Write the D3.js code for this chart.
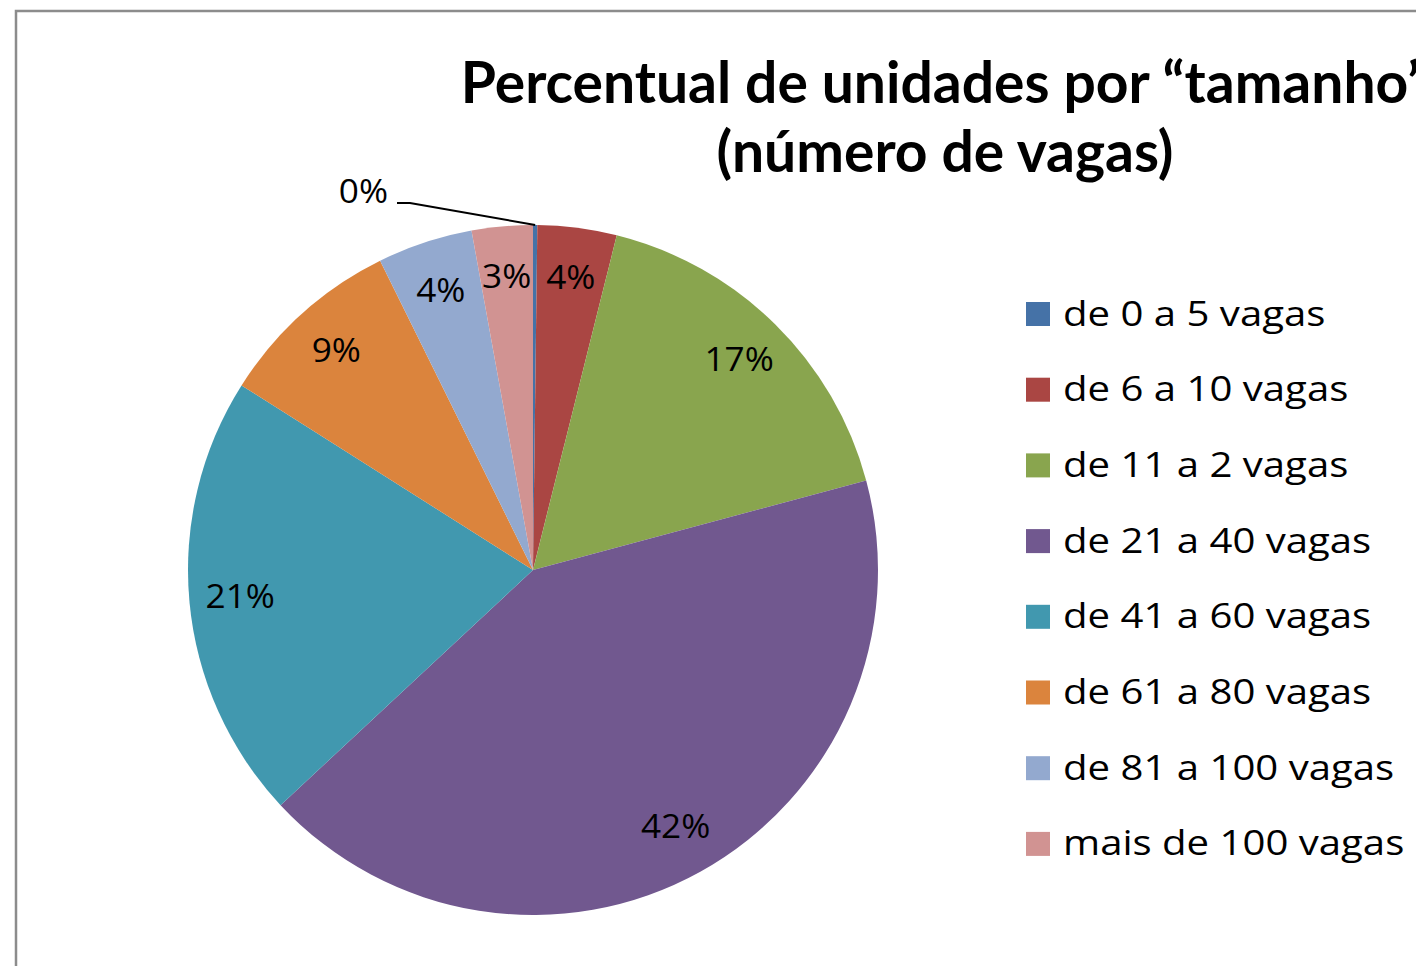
<!DOCTYPE html>
<html>
<head>
<meta charset="utf-8">
<script src="https://cdn.jsdelivr.net/npm/d3@7"></script>
<style>
  body { margin: 0; background: #fff; overflow: hidden; }
  text { font-family: "Open Sans", Lato, sans-serif; }
</style>
</head>
<body>
<div id="chart"></div>
<script>
// slice categories, clockwise from 12 o'clock
var categories = ["de 0 a 5 vagas", "de 6 a 10 vagas", "de 11 a 2 vagas", "de 21 a 40 vagas",
                  "de 41 a 60 vagas", "de 61 a 80 vagas", "de 81 a 100 vagas", "mais de 100 vagas"];
// percent of units
var percents = [0.2, 3.7, 16.9, 42.2, 20.9, 8.7, 4.45, 2.85];
var colors = ["#4572A7", "#AA4643", "#89A54E", "#71588F", "#4198AF", "#DB843D", "#93A9CF", "#D19392"];
var titleLines = ["Percentual de unidades por \u201ctamanho\u201d", "(n\u00famero de vagas)"];

var width = 1416, height = 966;
var cx = 533, cy = 570, radius = 345;

var svg = d3.select("#chart").append("svg")
    .attr("width", width)
    .attr("height", height);

// chart area border (cropped on right and bottom)
svg.append("rect")
    .attr("x", 16)
    .attr("y", 11)
    .attr("width", width + 20)
    .attr("height", height + 20)
    .attr("fill", "#fff")
    .attr("stroke", "#8c8c8c")
    .attr("stroke-width", 2.5);

// title (runs past the right edge, like the original)
var title = svg.append("text")
    .attr("text-anchor", "middle")
    .style("font-family", "Lato, sans-serif")
    .attr("font-weight", "bold")
    .attr("font-size", "57px")
    .attr("fill", "#000");
title.selectAll("tspan")
    .data(titleLines)
    .enter().append("tspan")
    .attr("x", 945)
    .attr("y", function(d, i) { return 103 + i * 69; })
    .text(function(d) { return d; });

var data = categories.map(function(c, i) { return {name: c, value: percents[i], color: colors[i]}; });

var pie = d3.pie()
    .sort(null)
    .value(function(d) { return d.value; });

var arc = d3.arc()
    .innerRadius(0)
    .outerRadius(radius);

var labelArc = d3.arc()
    .innerRadius(294)
    .outerRadius(294);

var g = svg.append("g")
    .attr("transform", "translate(" + cx + "," + cy + ")");

var arcs = pie(data);

g.selectAll("path.slice")
    .data(arcs)
    .enter().append("path")
    .attr("class", "slice")
    .attr("d", arc)
    .attr("fill", function(d) { return d.data.color; });

var fmt = function(v) { return Math.round(v) + "%"; };

// labels inside slices (the tiny first slice gets a leader line)
g.selectAll("text.lbl")
    .data(arcs.slice(1))
    .enter().append("text")
    .attr("class", "lbl")
    .attr("transform", function(d) { return "translate(" + labelArc.centroid(d) + ") scale(1.1,1)"; })
    .attr("text-anchor", "middle")
    .attr("dy", "0.34em")
    .attr("font-size", "32px")
    .attr("fill", "#000")
    .text(function(d) { return fmt(d.data.value); });

var small = arcs[0];
var mid = (small.startAngle + small.endAngle) / 2;
var edge = [Math.sin(mid) * radius, -Math.cos(mid) * radius];
g.append("polyline")
    .attr("points", [[-136, -367], [-123, -367], edge].map(function(p) { return p.join(","); }).join(" "))
    .attr("fill", "none")
    .attr("stroke", "#000")
    .attr("stroke-width", 2);
g.append("text")
    .attr("transform", "translate(-145,-378) scale(1.1,1)")
    .attr("text-anchor", "end")
    .attr("dy", "0.34em")
    .attr("font-size", "32px")
    .attr("fill", "#000")
    .text(fmt(small.data.value));

// legend
var legend = svg.append("g")
    .attr("transform", "translate(1026,314)");

var item = legend.selectAll("g.item")
    .data(data)
    .enter().append("g")
    .attr("class", "item")
    .attr("transform", function(d, i) { return "translate(0," + (i * 75.7) + ")"; });

item.append("rect")
    .attr("x", 0)
    .attr("y", -12)
    .attr("width", 24)
    .attr("height", 24)
    .attr("fill", function(d) { return d.color; });

item.append("text")
    .attr("transform", "translate(37,0) scale(1.18,1)")
    .attr("dy", "0.34em")
    .attr("font-size", "34px")
    .attr("fill", "#000")
    .text(function(d) { return d.name; });
</script>
</body>
</html>
